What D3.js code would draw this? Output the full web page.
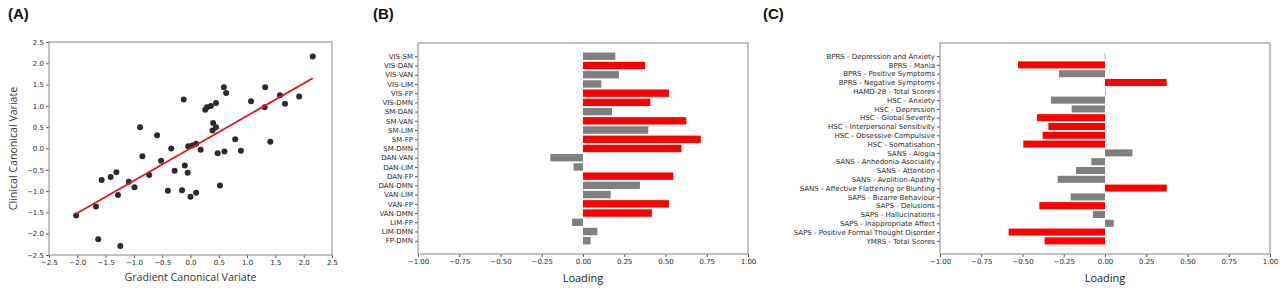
<!DOCTYPE html>
<html>
<head>
<meta charset="utf-8">
<script src="https://cdn.jsdelivr.net/npm/d3@7"></script>
<style>
  body { margin: 0; background: #fff; }
  svg { display: block; }
  .tick text { font-family: "DejaVu Sans", sans-serif; font-size: 7px; fill: #2a2a2a; }
  .tick line { stroke: #555; }
  .axis path.domain { display: none; }
</style>
</head>
<body>
<svg width="1280" height="288"></svg>
<script>
// ---- panel A data: gradient vs clinical canonical variate ----
let gradientVar = [-2.02, -1.67, -1.63, -1.57, -1.41, -1.31, -1.28, -1.24, -1.09, -0.99,
                   -0.89, -0.85, -0.73, -0.59, -0.52, -0.40, -0.34, -0.28, -0.15, -0.12,
                   -0.10, -0.05, -0.04, 0.00, 0.03, 0.10, 0.10, 0.18, 0.26, 0.29,
                   0.36, 0.39, 0.40, 0.45, 0.45, 0.48, 0.52, 0.59, 0.60, 0.63,
                   0.79, 0.89, 1.07, 1.31, 1.32, 1.41, 1.58, 1.67, 1.92, 2.16]
let clinicalVar = [-1.57, -1.36, -2.13, -0.74, -0.67, -0.56, -1.09, -2.29, -0.78, -0.91,
                   0.50, -0.18, -0.62, 0.31, -0.29, -0.99, 0.00, -0.52, -0.98, 1.15,
                   -0.40, -0.57, 0.05, -1.13, 0.07, 0.11, -1.04, -0.03, 0.91, 0.97,
                   1.00, 0.42, 0.60, 1.07, 0.50, -0.11, -0.87, 1.44, -0.07, 1.30,
                   0.22, -0.05, 1.11, 0.97, 1.44, 0.16, 1.25, 1.05, 1.22, 2.16]
let fitX = [-2.02, 2.16]
let fitY = [-1.53, 1.65]
let scatterTicks = [-2.5, -2.0, -1.5, -1.0, -0.5, 0.0, 0.5, 1.0, 1.5, 2.0, 2.5]

// ---- panel B data: connectivity loadings ----
let networkPairs = ['VIS-SM', 'VIS-DAN', 'VIS-VAN', 'VIS-LIM', 'VIS-FP', 'VIS-DMN', 'SM-DAN',
                    'SM-VAN', 'SM-LIM', 'SM-FP', 'SM-DMN', 'DAN-VAN', 'DAN-LIM', 'DAN-FP',
                    'DAN-DMN', 'VAN-LIM', 'VAN-FP', 'VAN-DMN', 'LIM-FP', 'LIM-DMN', 'FP-DMN']
let networkLoadings = [0.196, 0.377, 0.218, 0.111, 0.521, 0.408, 0.176,
                       0.626, 0.396, 0.714, 0.597, -0.198, -0.057, 0.547,
                       0.345, 0.168, 0.521, 0.418, -0.067, 0.087, 0.046]
let networkSignificant = [false, true, false, false, true, true, false,
                          true, false, true, true, false, false, true,
                          false, false, true, true, false, false, false]

// ---- panel C data: clinical loadings ----
let clinicalScales = ['BPRS - Depression and Anxiety', 'BPRS - Mania', 'BPRS - Positive Symptoms',
                      'BPRS - Negative Symptoms', 'HAMD-28 - Total Scores', 'HSC - Anxiety',
                      'HSC - Depression', 'HSC - Global Severity', 'HSC - Interpersonal Sensitivity',
                      'HSC - Obsessive-Compulsive', 'HSC - Somatisation', 'SANS - Alogia',
                      'SANS - Anhedonia-Asociality', 'SANS - Attention', 'SANS - Avolition-Apathy',
                      'SANS - Affective Flattening or Blunting', 'SAPS - Bizarre Behaviour',
                      'SAPS - Delusions', 'SAPS - Hallucinations', 'SAPS - Inappropriate Affect',
                      'SAPS - Positive Formal Thought Disorder', 'YMRS - Total Scores']
let clinicalLoadings = [-0.002, -0.527, -0.279, 0.374, 0.002, -0.327,
                        -0.202, -0.412, -0.343, -0.378, -0.495, 0.166,
                        -0.083, -0.176, -0.287, 0.374, -0.208,
                        -0.398, -0.073, 0.053, -0.584, -0.366]
let clinicalSignificant = [false, true, false, true, false, false,
                           false, true, true, true, true, false,
                           false, false, false, true, false,
                           true, false, false, true, true]
let loadingTicks = [-1.00, -0.75, -0.50, -0.25, 0.00, 0.25, 0.50, 0.75, 1.00]

let svg = d3.select('svg')
let frameColor = '#9a9a9a'
let labelFont = '"Open Sans", "DejaVu Sans", sans-serif'

let drawFrame = (g, x0, y0, x1, y1) => {
    g.append('rect')
     .attr('x', x0).attr('y', y0)
     .attr('width', x1 - x0).attr('height', y1 - y0)
     .attr('fill', 'none')
     .attr('stroke', frameColor)
     .attr('stroke-width', 1.2)
}

let drawPanelLetter = (text, x) => {
    svg.append('text')
       .attr('x', x).attr('y', 19)
       .attr('font-family', '"Liberation Sans", Arial, sans-serif')
       .attr('font-weight', 'bold')
       .attr('font-size', 15)
       .attr('fill', '#111')
       .text(text)
}

// ---- panel A ----
let drawScatter = () => {
    let left = 49, right = 332, top = 42, bottom = 255
    let g = svg.append('g')

    let xScale = d3.scaleLinear().domain([-2.5, 2.5]).range([left, right])
    let yScale = d3.scaleLinear().domain([-2.5, 2.5]).range([bottom, top])

    g.append('g')
     .attr('class', 'axis')
     .attr('transform', 'translate(0,' + bottom + ')')
     .call(d3.axisBottom(xScale).tickValues(scatterTicks).tickSize(3).tickPadding(2)
             .tickFormat(d => d3.format('.1f')(d).replace('-', '\u2212')))

    g.append('g')
     .attr('class', 'axis')
     .attr('transform', 'translate(' + left + ',0)')
     .call(d3.axisLeft(yScale).tickValues(scatterTicks).tickSize(3).tickPadding(2)
             .tickFormat(d => d3.format('.1f')(d).replace('-', '\u2212')))

    drawFrame(g, left, top, right, bottom)

    g.selectAll('circle')
     .data(gradientVar)
     .enter()
     .append('circle')
     .attr('cx', d => xScale(d))
     .attr('cy', (d, i) => yScale(clinicalVar[i]))
     .attr('r', 3)
     .attr('fill', '#2b2b2b')

    g.append('line')
     .attr('x1', xScale(fitX[0])).attr('y1', yScale(fitY[0]))
     .attr('x2', xScale(fitX[1])).attr('y2', yScale(fitY[1]))
     .attr('stroke', '#e8141b')
     .attr('stroke-width', 1.8)

    g.append('text')
     .attr('x', (left + right) / 2).attr('y', 281)
     .attr('text-anchor', 'middle')
     .attr('font-family', labelFont)
     .attr('font-size', 10.6)
     .attr('fill', '#333')
     .text('Gradient Canonical Variate')

    g.append('text')
     .attr('transform', 'translate(17,' + (top + bottom) / 2 + ') rotate(-90)')
     .attr('text-anchor', 'middle')
     .attr('font-family', labelFont)
     .attr('font-size', 10.6)
     .attr('fill', '#333')
     .text('Clinical Canonical Variate')
}

// ---- panels B and C ----
let drawLoadings = (names, values, significant, left, right, fontSize) => {
    let top = 43, bottom = 254
    let g = svg.append('g')
    let n = names.length

    let lo = -0.4, hi = n - 1 + 0.4
    let pad = 0.05 * (hi - lo)

    let xScale = d3.scaleLinear().domain([-1, 1]).range([left, right])
    let yScale = d3.scaleLinear().domain([lo - pad, hi + pad]).range([top, bottom])
    let barH = yScale(0.8) - yScale(0)

    g.append('g')
     .attr('class', 'axis')
     .attr('transform', 'translate(0,' + bottom + ')')
     .call(d3.axisBottom(xScale).tickValues(loadingTicks).tickSize(3).tickPadding(2)
             .tickFormat(d => d3.format('.2f')(d).replace('-', '\u2212')))

    let yAxis = g.append('g')
     .attr('class', 'axis')
     .attr('transform', 'translate(' + left + ',0)')
     .call(d3.axisLeft(yScale).tickValues(d3.range(n)).tickSize(3).tickPadding(2)
             .tickFormat(i => names[i]))
    yAxis.selectAll('.tick text').style('font-size', fontSize + 'px')

    drawFrame(g, left, top, right, bottom)

    g.selectAll('rect.bar')
     .data(values)
     .enter()
     .append('rect')
     .attr('class', 'bar')
     .attr('x', d => xScale(Math.min(0, d)))
     .attr('y', (d, i) => yScale(i) - barH / 2)
     .attr('width', d => Math.max(0.6, Math.abs(xScale(d) - xScale(0))))
     .attr('height', barH)
     .attr('fill', (d, i) => significant[i] ? '#ff0000' : '#808080')

    g.append('text')
     .attr('x', (left + right) / 2).attr('y', 282)
     .attr('text-anchor', 'middle')
     .attr('font-family', labelFont)
     .attr('font-size', 11)
     .attr('fill', '#222')
     .text('Loading')
}

drawPanelLetter('(A)', 8)
drawPanelLetter('(B)', 373)
drawPanelLetter('(C)', 763)
drawScatter()
drawLoadings(networkPairs, networkLoadings, networkSignificant, 418, 748, 7)
drawLoadings(clinicalScales, clinicalLoadings, clinicalSignificant, 940, 1270, 7)
</script>
</body>
</html>
